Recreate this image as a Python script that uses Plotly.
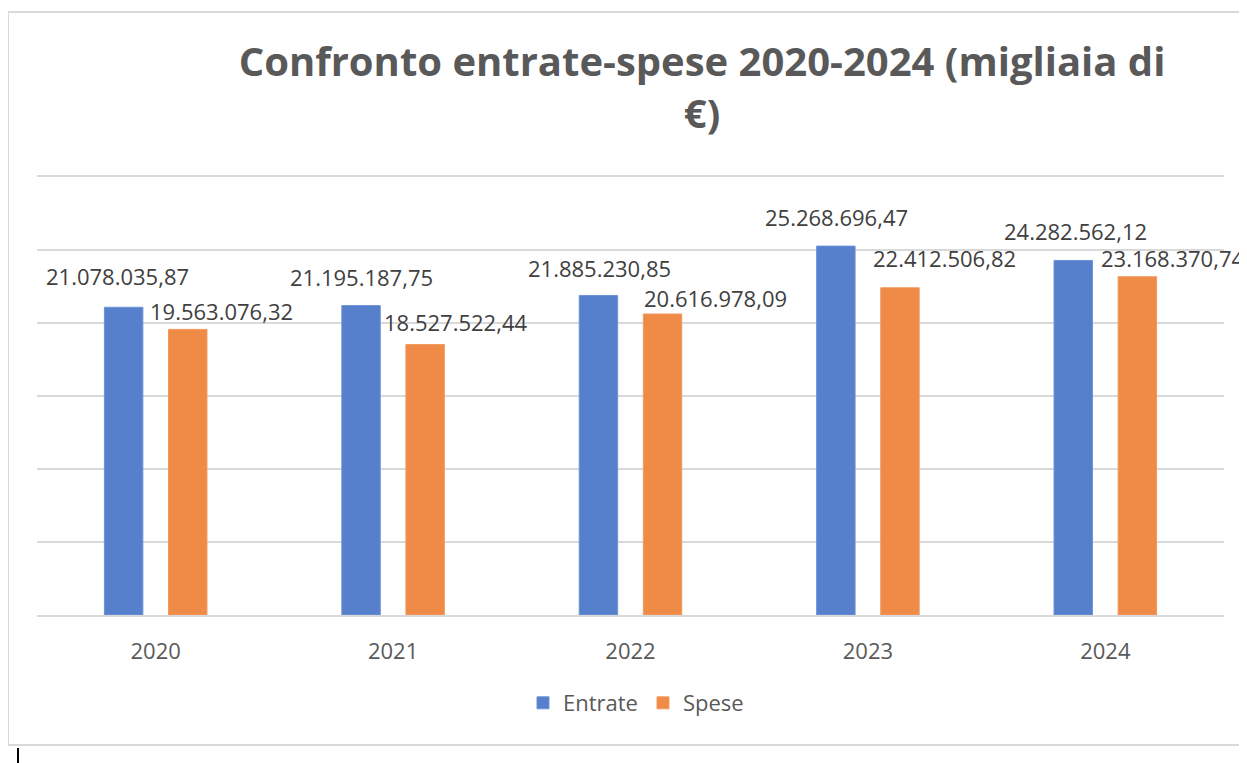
import plotly.graph_objects as go

years = ["2020", "2021", "2022", "2023", "2024"]
entrate = [21078035.87, 21195187.75, 21885230.85, 25268696.47, 24282562.12]
spese = [19563076.32, 18527522.44, 20616978.09, 22412506.82, 23168370.74]
entrate_labels = ["21.078.035,87", "21.195.187,75", "21.885.230,85", "25.268.696,47", "24.282.562,12"]
spese_labels = ["19.563.076,32", "18.527.522,44", "20.616.978,09", "22.412.506,82", "23.168.370,74"]

# label offsets (pixels) relative to the category centre / bar top
entrate_dx = [-38, -32, -31, -31, -30]
entrate_dy = [31, 29, 27, 29, 29]
spese_dx = [66, 62, 85, 77, 67]
spese_dy = [18, 23, 16, 30, 19]

FONT = "Open Sans"
TXT = "#404040"

# page body has an 8px margin; compensate so the plot area lands where the reference has it
OFF = 8
L, T, PW, PH = 37 - OFF, 177 - OFF, 1187, 438

fig = go.Figure()
fig.add_trace(go.Bar(name="Entrate", x=years, y=entrate,
                     marker=dict(color="#5680cc", line=dict(color="#6f93d6", width=1))))
fig.add_trace(go.Bar(name="Spese", x=years, y=spese,
                     marker=dict(color="#ef8b47", line=dict(color="#f29a5e", width=1))))

annotations = []
for i, yr in enumerate(years):
    # category axis: annotation x given as category index
    annotations.append(dict(x=i, y=entrate[i], xref="x", yref="y", text=entrate_labels[i],
                            showarrow=False, xshift=entrate_dx[i], yshift=entrate_dy[i],
                            xanchor="center", yanchor="middle",
                            font=dict(family=FONT, size=22, color=TXT)))
    annotations.append(dict(x=i, y=spese[i], xref="x", yref="y", text=spese_labels[i],
                            showarrow=False, xshift=spese_dx[i], yshift=spese_dy[i],
                            xanchor="center", yanchor="middle",
                            font=dict(family=FONT, size=22, color=TXT)))

fig.update_layout(
    width=1247, height=763,
    margin=dict(l=L, r=1247 - L - PW, t=T, b=763 - T - PH, autoexpand=False),
    paper_bgcolor="white", plot_bgcolor="white",
    barmode="group", bargap=0.46, bargroupgap=0.4,
    title=dict(text="Confronto entrate-spese 2020-2024 (migliaia di<br>€)",
               x=(702 - 37) / 1187, xref="paper", xanchor="center",
               y=(763 - 68) / 763, yref="container", yanchor="top",
               font=dict(family=FONT, size=40, color="#595959", weight="bold")),
    font=dict(family=FONT, color="#595959"),
    showlegend=True,
    legend=dict(orientation="h", x=(636 - 37) / 1187, xanchor="center",
                y=(615 - 703) / 438, yanchor="middle",
                font=dict(family=FONT, size=22, color="#595959"),
                itemwidth=30, traceorder="normal"),
    annotations=annotations,
    shapes=[
        dict(type="rect", xref="paper", yref="paper",
             x0=(8 - 37) / PW, x1=(1262 - 37) / PW,
             y0=(615 - 745) / PH, y1=(615 - 12) / PH,
             line=dict(color="#d9d9d9", width=2), fillcolor="rgba(0,0,0,0)", layer="below"),
        dict(type="line", xref="paper", yref="paper",
             x0=(18 - 37) / PW, x1=(18 - 37) / PW,
             y0=(615 - 748) / PH, y1=(615 - 766) / PH,
             line=dict(color="black", width=2)),
    ],
)
fig.update_xaxes(type="category", range=[-0.5, len(years) - 0.5], autorange=False,
                 showgrid=False, showline=True, mirror=True, linecolor="#d9d9d9", linewidth=1.5,
                 ticks="", ticklabelstandoff=16,
                 tickfont=dict(family=FONT, size=22, color="#595959"))
fig.update_yaxes(range=[0, 30000000], autorange=False, dtick=5000000, showgrid=True,
                 gridcolor="#d9d9d9", gridwidth=1.5, zeroline=False,
                 showticklabels=False, showline=False)

fig.write_html("out.html")
